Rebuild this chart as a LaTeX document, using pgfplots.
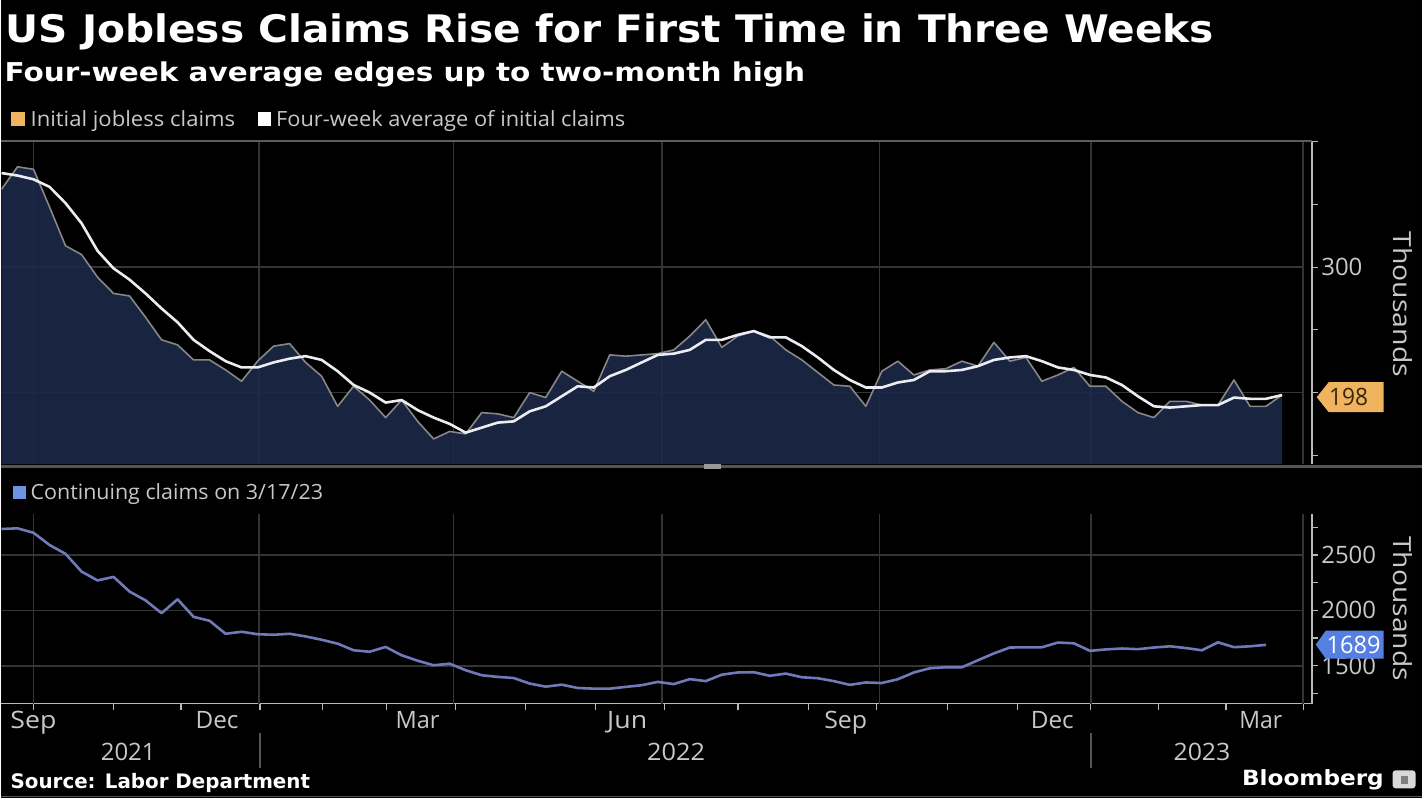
\documentclass[border=0pt]{standalone}
\usepackage{fontspec}
\usepackage{graphicx}
\usepackage{pgfplots}
\usepackage{pgfplotstable}
\pgfplotsset{compat=1.18}
\setmainfont{Open Sans}
\newfontfamily\titlefont{DejaVu Sans}
\newsavebox\fitbox
\newcommand\fitw[2]{\sbox\fitbox{#2}\pgfmathsetmacro\fitsc{#1/\the\wd\fitbox}\scalebox{\fitsc}[1]{\usebox\fitbox}}
\newcommand\fs[1]{\fontsize{#1}{#1}\selectfont}

\definecolor{navy}{RGB}{27,40,72}
\definecolor{graylin}{RGB}{135,135,135}
\definecolor{whitelin}{RGB}{236,237,242}
\definecolor{gridc}{RGB}{52,52,52}
\definecolor{axisc}{RGB}{185,185,185}
\definecolor{bluelin}{RGB}{112,122,185}
\definecolor{tagor}{RGB}{240,180,95}
\definecolor{tagbl}{RGB}{85,128,225}
\definecolor{lbl}{RGB}{200,200,200}
\definecolor{sepc}{RGB}{85,85,85}

\pgfplotstableread{
k ic avg
0 362 375
1 380 373
2 378 370
3 348 364
4 317 351
5 310 335
6 292 313
7 279 299
8 277 290
9 260 279
10 242 267
11 238 256
12 226 242
13 226 233
14 218 225
15 209 220
16 225 220
17 237 224
18 239 227
19 224 229
20 213 226
21 189 217
22 205 206
23 194 200
24 180 192
25 194 194
26 177 186
27 163 180
28 169 175
29 167 168
30 184 172
31 183 176
32 180 177
33 200 185
34 196 189
35 217 197
36 209 205
37 201 204
38 230 213
39 229 218
40 230 224
41 231 230
42 234 231
43 245 234
44 258 242
45 236 242
46 245 246
47 249 249
48 245 244
49 234 244
50 226 237
51 216 228
52 206 218
53 205 210
54 189 204
55 217 204
56 225 208
57 214 210
58 218 217
59 219 217
60 225 218
61 221 221
62 240 226
63 225 228
64 228 229
65 209 225
66 214 220
67 220 218
68 205 214
69 205 212
70 193 206
71 184 197
72 180 189
73 193 188
74 193 189
75 190 190
76 190 190
77 210 196
78 189 195
79 189 195
80 198 198
}\initial

\pgfplotstableread{
k cc
0 2734
1 2740
2 2700
3 2590
4 2510
5 2350
6 2270
7 2302
8 2170
9 2090
10 1975
11 2100
12 1942
13 1906
14 1789
15 1807
16 1785
17 1780
18 1789
19 1765
20 1735
21 1700
22 1640
23 1627
24 1670
25 1595
26 1546
27 1505
28 1519
29 1460
30 1415
31 1400
32 1390
33 1340
34 1312
35 1330
36 1300
37 1294
38 1294
39 1310
40 1325
41 1355
42 1335
43 1380
44 1362
45 1420
46 1440
47 1442
48 1410
49 1430
50 1397
51 1388
52 1362
53 1328
54 1350
55 1345
56 1379
57 1440
58 1478
59 1487
60 1487
61 1550
62 1612
63 1665
64 1667
65 1667
66 1710
67 1703
68 1635
69 1648
70 1656
71 1650
72 1665
73 1676
74 1660
75 1640
76 1712
77 1668
78 1676
79 1689
}\continuing

\begin{document}
\begin{tikzpicture}[x=1pt,y=1pt]
\fill[black] (0,0) rectangle (1423,800);

% ---------- top panel ----------
\begin{axis}[
  at={(0pt,335pt)}, anchor=south west,
  scale only axis, width=1313pt, height=323pt,
  xmin=0, xmax=81.86, ymin=143, ymax=400,
  axis x line=none,
  axis y line*=right,
  y axis line style={draw=axisc, line width=1.5pt},
  ytick={200,300}, yticklabels={,300},
  minor ytick={150,250,350,400},
  tick align=outside,
  major tick length=6pt, minor tick length=6pt,
  tick style={draw=axisc, line width=1.2pt},
  yticklabel style={font=\fs{24}, text=lbl},
  clip=true,
]
\pgfplotsinvokeforeach{1.995,16.08,28.24,41.27,54.86,68.08,81.30}{
  \draw[gridc, line width=1.5pt] (axis cs:#1,143) -- (axis cs:#1,400);
}
\pgfplotsinvokeforeach{200,300}{
  \draw[gridc, line width=1.5pt] (axis cs:0,#1) -- (axis cs:81.30,#1);
}
\addplot[fill=navy, fill opacity=0.9, draw=none] table[x=k, y=ic] {\initial} \closedcycle;
\addplot[graylin, line width=1.6pt, line join=round] table[x=k, y=ic] {\initial};
\addplot[whitelin, line width=2.6pt, line join=round] table[x=k, y=avg] {\initial};
\end{axis}

% ---------- bottom panel ----------
\begin{axis}[
  at={(0pt,95pt)}, anchor=south west,
  scale only axis, width=1313pt, height=190pt,
  xmin=0, xmax=81.86, ymin=1160, ymax=2870,
  axis x line*=bottom,
  axis y line*=right,
  axis line style={draw=axisc, line width=1.5pt},
  xtick={2.00,6.98,11.22,16.15,20.07,24.06,28.37,32.73,37.09,41.40,46.01,50.44,54.68,59.10,63.47,68.02,72.26,76.50,81.36},
  xticklabels={},
  ytick={1500,2000,2500}, yticklabels={1500,2000,2500},
  minor ytick={1250,1750,2250,2750},
  tick align=outside,
  major tick length=6pt, minor tick length=6pt,
  tick style={draw=axisc, line width=1.2pt},
  yticklabel style={font=\fs{24}, text=lbl},
  clip=true,
]
\pgfplotsinvokeforeach{1.995,16.08,28.24,41.27,54.86,68.08,81.30}{
  \draw[gridc, line width=1.5pt] (axis cs:#1,1160) -- (axis cs:#1,2870);
}
\pgfplotsinvokeforeach{1500,2000,2500}{
  \draw[gridc, line width=1.5pt] (axis cs:0,#1) -- (axis cs:81.30,#1);
}
\addplot[bluelin, line width=2.6pt, line join=round] table[x=k, y=cc] {\continuing};
\end{axis}

% ---------- frame lines ----------
\draw[gridc!80!white, line width=2pt] (0,659) -- (1313,659);
\draw[sepc, line width=3pt] (0,333) -- (1423,333);
\fill[sepc!60!white] (704,330) rectangle (721,335);
\draw[sepc, line width=1.5pt] (259,65) -- (259,30);
\draw[sepc, line width=1.5pt] (1092,65) -- (1092,30);
\draw[sepc, line width=1pt] (0,1.5) -- (1423,1.5);

% ---------- titles ----------
\node[anchor=base west, inner sep=0pt, text=white] at (4,757)
  {\fitw{1211}{\titlefont\bfseries\fs{38}US Jobless Claims Rise for First Time in Three Weeks}};
\node[anchor=base west, inner sep=0pt, text=white] at (3,718)
  {\fitw{802}{\titlefont\bfseries\fs{26}Four-week average edges up to two-month high}};

% ---------- legends ----------
\fill[tagor] (10,674) rectangle (24,688);
\node[anchor=base west, inner sep=0pt, text=lbl] at (29,673)
  {\fitw{205}{\fs{21}Initial jobless claims}};
\fill[white] (257,674) rectangle (270,688);
\node[anchor=base west, inner sep=0pt, text=lbl] at (275,673)
  {\fitw{350}{\fs{21}Four-week average of initial claims}};
\fill[tagbl!85!white] (12,300) rectangle (25,313);
\node[anchor=base west, inner sep=0pt, text=lbl] at (29,299)
  {\fitw{293}{\fs{21}Continuing claims on 3/17/23}};

% ---------- right-side labels ----------
\node[rotate=-90, inner sep=0pt, text=lbl] at (1404,495) {\fitw{146}{\fs{25}Thousands}};
\node[rotate=-90, inner sep=0pt, text=lbl] at (1404,190) {\fitw{145}{\fs{25}Thousands}};

% value tags
\fill[tagor] (1318,402) -- (1330,417) -- (1385,417) -- (1385,387) -- (1330,387) -- cycle;
\node[inner sep=0pt, text={rgb,255:red,55;green,38;blue,12}] at (1350,402) {\fitw{39}{\fs{24}198}};
\fill[tagbl] (1317,154) -- (1327,168) -- (1385,168) -- (1385,140) -- (1327,140) -- cycle;
\node[inner sep=0pt, text=white] at (1355,154) {\fitw{54}{\fs{24}1689}};

% ---------- x labels ----------
\foreach \xx/\ww/\tt in {32/46/Sep, 216/43/Dec, 417/44/Mar, 627/40/Jun, 846/43/Sep, 1053/43/Dec, 1262/43/Mar}{
  \node[anchor=base, inner sep=0pt, text=lbl] at (\xx,70) {\fitw{\ww}{\fs{24}\tt}};
}
\foreach \xx/\ww/\tt in {127/55/2021, 676/58/2022, 1203/57/2023}{
  \node[anchor=base, inner sep=0pt, text=lbl] at (\xx,38) {\fitw{\ww}{\fs{24}\tt}};
}

% ---------- footer ----------
\node[anchor=base west, inner sep=0pt, text=white] at (9,10)
  {\fitw{300}{\titlefont\bfseries\fs{20}Source: Labor Department}};
\node[anchor=base west, inner sep=0pt, text=white] at (1243,13)
  {\fitw{142}{\titlefont\bfseries\fs{21}Bloomberg}};
\fill[rounded corners=3pt, white!85!black] (1394,10) rectangle (1417,28);
\fill[gray] (1402,14) rectangle (1409,22);
\end{tikzpicture}
\end{document}
